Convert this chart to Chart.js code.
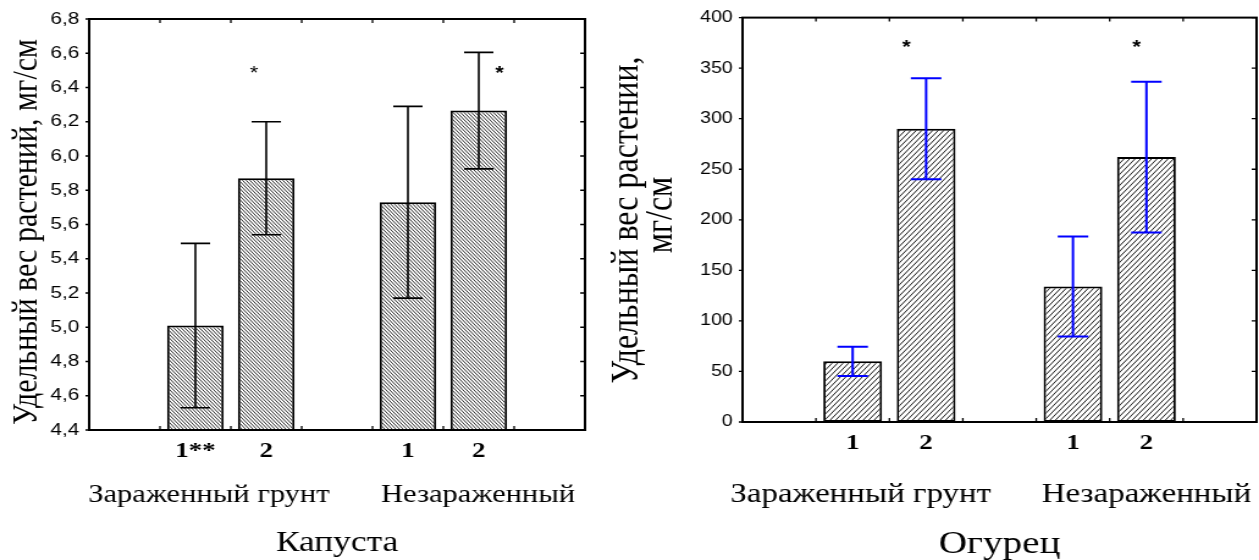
<!DOCTYPE html>
<html>
<head>
<meta charset="utf-8">
<script src="https://cdn.jsdelivr.net/npm/chart.js@4.4.1/dist/chart.umd.min.js"></script>
<style>
  html, body { margin: 0; padding: 0; background: #fff; }
  body { position: relative; width: 1259px; height: 560px; overflow: hidden; }
  canvas { position: absolute; top: 0; }
</style>
</head>
<body>
<!-- both canvases are drawn narrow and widened by the inline style -->
<canvas id="cabbage" width="488" height="560" style="left:0;width:596px;height:560px"></canvas>
<canvas id="cucumber" width="543" height="560" style="left:596px;width:663px;height:560px"></canvas>
<script>
// slots: empty, infected 1, infected 2, empty, clean 1, clean 2, empty
const cabbageLabels = ['', '1**', '2', '', '1', '2', ''];
const cucumberLabels = ['', '1', '2', '', '1', '2', ''];
const groupNames = ['Зараженный грунт', 'Незараженный'];

const cabbageMeans = [null, 5.01, 5.87, null, 5.73, 6.265, null];
const cabbageErrors = [null, 0.48, 0.33, null, 0.56, 0.34, null];
const cabbageStars = [null, null, '*', null, null, '*', null];

const cucumberMeans = [null, 60, 290, null, 134, 262, null];
const cucumberErrors = [null, 14.5, 50, null, 49.5, 74.5, null];
const cucumberStars = [null, null, '*', null, null, '*', null];

const cabbageRange = [4.4, 6.8, 0.2];
const cucumberRange = [0, 400, 50];

const SERIF = '"Liberation Serif", "Times New Roman", serif';
const SANS = '"Liberation Sans", Arial, sans-serif';

function hatch(dir, lines, width) {
  const w = 9, h = 11;
  const c = document.createElement('canvas');
  c.width = w; c.height = h;
  const g = c.getContext('2d');
  g.fillStyle = '#fff';
  g.fillRect(0, 0, w, h);
  g.strokeStyle = '#000';
  g.lineWidth = width;
  g.beginPath();
  for (let k = 0; k < lines; k++) {
    const x0 = k * w / lines;
    for (const s of [-w, 0, w]) {
      if (dir === 'back') { g.moveTo(x0 + s, 0); g.lineTo(x0 + s + w, h); }
      else { g.moveTo(x0 + s, h); g.lineTo(x0 + s + w, 0); }
    }
  }
  g.stroke();
  return g.createPattern(c, 'repeat');
}

const frame = {
  id: 'frame',
  afterDatasetsDraw(chart, args, o) {
    const { ctx, chartArea: a, scales: { x, y } } = chart;
    ctx.save();

    // error bars
    ctx.strokeStyle = o.errorColor;
    ctx.lineWidth = o.errorWidth;
    ctx.beginPath();
    o.means.forEach((m, i) => {
      if (m == null) return;
      const cx = x.getPixelForValue(i);
      const yt = y.getPixelForValue(m + o.errors[i]);
      const yb = y.getPixelForValue(m - o.errors[i]);
      ctx.moveTo(cx, yt); ctx.lineTo(cx, yb);
      ctx.moveTo(cx - o.cap, yt); ctx.lineTo(cx + o.cap, yt);
      ctx.moveTo(cx - o.cap, yb); ctx.lineTo(cx + o.cap, yb);
    });
    ctx.stroke();

    // frame and tick marks
    ctx.strokeStyle = '#000';
    ctx.lineWidth = 2;
    ctx.strokeRect(a.left, a.top, a.width, a.height);
    ctx.lineWidth = 1.3;
    ctx.beginPath();
    y.ticks.forEach(t => {
      const py = y.getPixelForValue(t.value);
      ctx.moveTo(a.left - 3, py); ctx.lineTo(a.left, py);
      ctx.moveTo(a.right, py); ctx.lineTo(a.right - 4, py);
    });
    for (let i = 1; i < x.ticks.length; i++) {
      const px = (x.getPixelForValue(i - 1) + x.getPixelForValue(i)) / 2;
      ctx.moveTo(px, a.top); ctx.lineTo(px, a.top + 4);
      ctx.moveTo(px, a.bottom); ctx.lineTo(px, a.bottom - 4);
    }
    ctx.stroke();

    // significance marks
    ctx.fillStyle = '#000';
    ctx.textAlign = 'center';
    ctx.textBaseline = 'middle';
    o.stars.forEach((s, i) => {
      if (!s) return;
      const st = o.starStyle[i];
      ctx.font = st.font;
      ctx.fillText(s, x.getPixelForValue(i) + st.dx, y.getPixelForValue(o.starLevel));
    });

    // group names and crop name
    ctx.font = o.groupFont;
    o.groups.forEach((g, k) => {
      ctx.fillText(g, x.getPixelForValue(o.groupAt[k]), o.groupY);
    });
    ctx.font = o.cropFont;
    ctx.fillText(o.crop, (a.left + a.right) / 2, o.cropY);

    // y axis title
    ctx.font = o.titleFont;
    ctx.save();
    ctx.translate(0, o.titleY);
    ctx.rotate(-Math.PI / 2);
    o.title.forEach((line, k) => ctx.fillText(line, o.titleShift[k], o.titleX[k]));
    ctx.restore();

    ctx.restore();
  }
};

function build(id, cfg) {
  const canvas = document.getElementById(id);
  const W = canvas.width, H = canvas.height, b = cfg.box;
  return new Chart(canvas, {
    type: 'bar',
    data: {
      labels: cfg.labels,
      datasets: [{
        data: cfg.means,
        backgroundColor: hatch(cfg.hatchDir, cfg.hatchLines, cfg.hatchWidth),
        borderColor: '#000',
        borderWidth: 2,
        borderSkipped: false,
        categoryPercentage: 1,
        barPercentage: 0.8
      }]
    },
    options: {
      responsive: false,
      animation: false,
      devicePixelRatio: 1,
      layout: { padding: { top: b.top, right: W - b.right, left: 0, bottom: 0 } },
      plugins: {
        legend: { display: false },
        tooltip: { enabled: false },
        frame: cfg.frame
      },
      scales: {
        x: {
          offset: true,
          grid: { display: false, drawTicks: false },
          border: { display: false },
          ticks: {
            autoSkip: false, maxRotation: 0, padding: 8, color: '#000',
            font: { family: SERIF, size: 22, weight: 'bold' }
          },
          afterFit: s => { s.height = H - b.bottom; }
        },
        y: {
          min: cfg.range[0], max: cfg.range[1],
          grid: { display: false, drawTicks: false },
          border: { display: false },
          ticks: {
            stepSize: cfg.range[2], padding: cfg.tickPad, color: '#000',
            font: { family: SANS, size: cfg.tickSize },
            callback: v => cfg.fmt(v)
          },
          afterFit: s => { s.width = b.left; }
        }
      }
    },
    plugins: [frame]
  });
}

build('cabbage', {
  labels: cabbageLabels,
  means: cabbageMeans,
  range: cabbageRange,
  box: { left: 73, top: 19, right: 479, bottom: 430 },
  hatchDir: 'back', hatchLines: 3, hatchWidth: 0.8,
  tickPad: 8, tickSize: 17,
  fmt: v => v.toFixed(1).replace('.', ','),
  frame: {
    means: cabbageMeans, errors: cabbageErrors,
    errorColor: '#000', errorWidth: 1.6, cap: 12,
    stars: cabbageStars, starLevel: 6.48,
    starStyle: [null, null, { dx: -10, font: '18px ' + SANS }, null, null, { dx: 17, font: 'bold 18px ' + SANS }, null],
    groups: groupNames, groupAt: [1.19, 4.99], groupY: 495, groupFont: '25px ' + SERIF,
    crop: 'Капуста', cropY: 543, cropFont: '29px ' + SERIF,
    title: ['Удельный вес растений, мг/см'], titleX: [22], titleShift: [0], titleY: 232, titleFont: '30px ' + SERIF
  }
});

build('cucumber', {
  labels: cucumberLabels,
  means: cucumberMeans,
  range: cucumberRange,
  box: { left: 120, top: 12, right: 541, bottom: 422 },
  hatchDir: 'fwd', hatchLines: 2, hatchWidth: 0.9,
  tickPad: 8, tickSize: 16,
  fmt: v => String(v),
  frame: {
    means: cucumberMeans, errors: cucumberErrors,
    errorColor: '#0000ff', errorWidth: 2, cap: 12.5,
    stars: cucumberStars, starLevel: 370,
    starStyle: [null, null, { dx: -16, font: 'bold 18px ' + SANS }, null, null, { dx: -8, font: 'bold 18px ' + SANS }, null],
    groups: groupNames, groupAt: [1.11, 5.0], groupY: 495, groupFont: '27px ' + SERIF,
    crop: 'Огурец', cropY: 545, cropFont: '32px ' + SERIF,
    title: ['Удельный вес растении,', 'мг/см'], titleX: [26, 54], titleShift: [0, 5], titleY: 220, titleFont: '32px ' + SERIF
  }
});
</script>
</body>
</html>
